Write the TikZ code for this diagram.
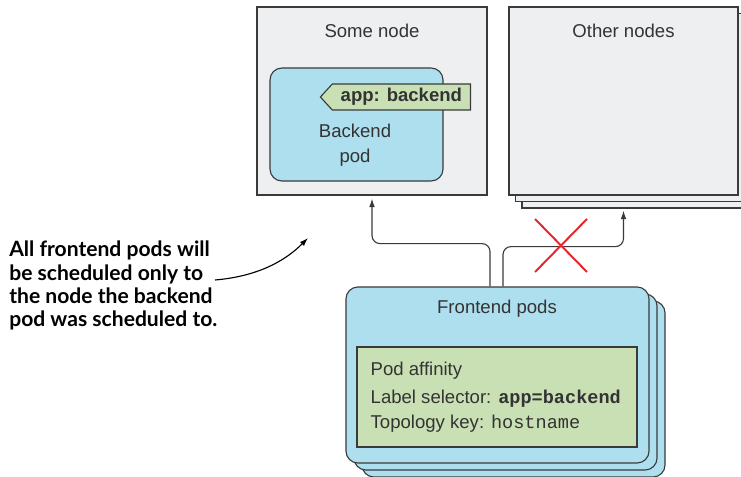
\documentclass[tikz,border=0pt]{standalone}
\usepackage{fontspec}
\setmainfont{Liberation Sans}
\setmonofont{Liberation Mono}
\newfontfamily\notefont{Lato}
\usetikzlibrary{arrows.meta,calc,shapes.symbols}
\definecolor{nodegray}{HTML}{EEEFF1}
\definecolor{nodeline}{HTML}{3A3A3A}
\definecolor{podblue}{HTML}{ADDFEF}
\definecolor{selgreen}{HTML}{C9E0B4}
\definecolor{crossred}{HTML}{E8262B}
\definecolor{inktext}{HTML}{333333}

\begin{document}
\begin{tikzpicture}[x=0.025cm,y=-0.025cm,
  every node/.style={text=inktext,font=\fontsize{13.2}{17.8}\selectfont},
  nodebox/.style={draw=nodeline,fill=nodegray,line width=0.8pt,minimum width=5.75cm,minimum height=4.7cm,inner sep=0pt},
  podbox/.style={draw=nodeline,fill=podblue,line width=0.8pt,rounded corners=0.3cm,inner sep=0pt},
  frontbox/.style={podbox,minimum width=7.575cm,minimum height=4.4cm},
  tagbox/.style={signal,signal to=west,signal pointer angle=95,draw=nodeline,fill=selgreen,line width=0.8pt,minimum width=3.75cm,minimum height=0.65cm,inner sep=0pt},
  selbox/.style={draw=nodeline,fill=selgreen,line width=0.8pt,minimum width=7cm,minimum height=2.5cm,inner sep=0pt},
  seltext/.style={align=left,inner sep=0pt},
  conn/.style={draw=nodeline,line width=0.8pt,rounded corners=0.2cm,-{Latex[length=6pt,width=4pt]}},
  callout/.style={draw=black,line width=0.8pt,-{Latex[length=6pt,width=4pt]}},
  cross/.style={draw=crossred,line width=1.4pt},
  note/.style={align=left,inner sep=0pt,text=black,font=\notefont\bfseries\fontsize{15}{16.4}\selectfont}
]
  \useasboundingbox (0,0) rectangle (741,477);

  % the node with the backend pod
  \node[nodebox] (some) at (372,101) {};
  \node (somename) at (372,31) {Some node};
  \node[podbox,minimum width=4.325cm,minimum height=2.825cm] (backend) at (356.5,124.5) {};
  \node[align=center] (backendname) at (355,145) {Backend\\pod};
  \node[tagbox,anchor=east] (applabel) at (471,97) {\bfseries app: backend};

  % the other nodes
  \node[nodebox,minimum width=5.725cm] (other3) at (636.5,114) {};
  \node[nodebox,minimum width=5.725cm] (other2) at (630,107.5) {};
  \node[nodebox,minimum width=5.725cm] (other) at (623.5,101) {};
  \node (othername) at (623.5,31) {Other nodes};

  % the frontend pods
  \node[frontbox] (front3) at (513.5,389) {};
  \node[frontbox] (front2) at (505.5,382) {};
  \node[frontbox] (front) at (497.5,375) {};
  \node (frontname) at (497,309) {Frontend pods};
  \node[selbox] (affinity) at (497,397) {};
  \node[seltext,anchor=west] (affinitytext) at ($(affinity.west)+(14,0)$) {Pod affinity\\[2pt]
    Label selector: \texttt{\bfseries app=backend}\\
    Topology key: \texttt{hostname}};

  % scheduling
  \draw[conn] ($(front.north)+(-7.5,0)$) |- ($(some.south)+(0,48)$) -- ($(some.south)+(0,3)$);
  \draw[conn] ($(front.north)+(5.5,0)$) |- ($(other.south)+(0,51)$) -- ($(other.south)+(0,15)$);
  \draw[cross] (535,219) -- (587,272);
  \draw[cross] (587,219) -- (535,272);

  % note
  \node[note,anchor=north west] (note) at (9,241) {All frontend pods will\\be scheduled only to\\the node the backend\\pod was scheduled to.};
  \coordinate (noteend) at (215,280);
  \coordinate (notetip) at (308,238);
  \draw[callout] (noteend) .. controls (262,276) and (288,258) .. (notetip);
\end{tikzpicture}
\end{document}
